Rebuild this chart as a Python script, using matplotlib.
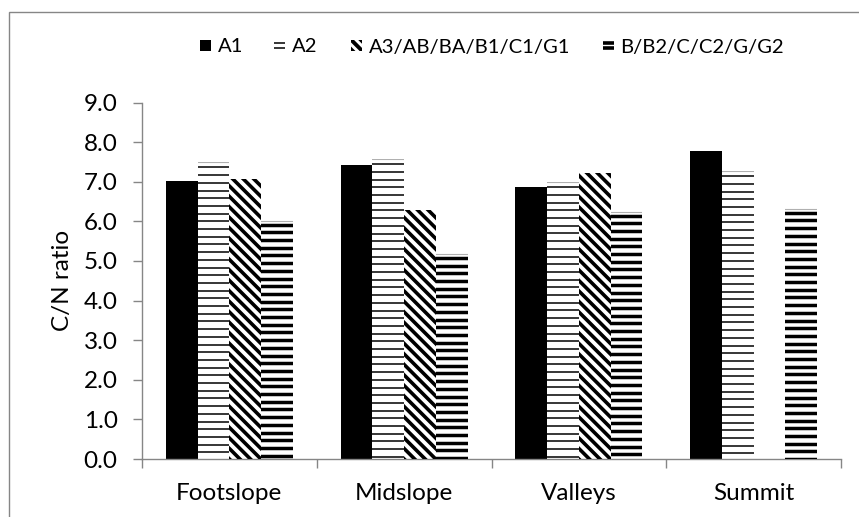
import matplotlib
matplotlib.use("Agg")
import numpy as np
import matplotlib.pyplot as plt
from matplotlib.collections import LineCollection
from matplotlib.transforms import IdentityTransform
from matplotlib.patches import Rectangle
from matplotlib.lines import Line2D
from matplotlib.legend_handler import HandlerBase

# ---- data ----
positions = ["Footslope", "Midslope", "Valleys", "Summit"]
a1 = [7.02, 7.42, 6.86, 7.78]
a2 = [7.50, 7.58, 7.00, 7.28]
a3 = [7.06, 6.28, 7.22, 0.0]
b_hor = [6.03, 5.19, 6.26, 6.33]
series_names = ["A1", "A2", "A3/AB/BA/B1/C1/G1", "B/B2/C/C2/G/G2"]
yticks = np.arange(0, 9.01, 1.0)

FONT = "Lato"
FS = 17.5
FS_LEG = 14.6
plt.rcParams["font.family"] = [FONT, "DejaVu Sans"]
GRAY = "#868686"

W, H = 859, 517
fig = plt.figure(figsize=(W / 100, H / 100), dpi=100)
ax = fig.add_axes([142 / W, (H - 459) / H, (841 - 142) / W, (459 - 102.5) / H])

x = np.arange(len(positions))
bw = 0.182
series = [a1, a2, a3, b_hor]
styles = ["solid", "thin", "diag", "thick"]

ax.set_xlim(-0.5, len(positions) - 0.5)
ax.set_ylim(0, 9)

bar_groups = []
for i, (vals, st) in enumerate(zip(series, styles)):
    fc = "black" if st == "solid" else "white"
    bars = ax.bar(x + (i - 1.5) * bw, vals, width=bw, color=fc,
                  edgecolor="none", linewidth=0, zorder=2)
    bar_groups.append((bars, st))


def stripe_patch(patch, style):
    """Overlay line stripes (in pixel units) clipped to a bar patch."""
    bb = patch.get_window_extent()
    if bb.height <= 0:
        return
    segs, cols, lws = [], [], []
    if style in ("thin", "thick"):
        step = 7.7
        lw = 1.1 if style == "thin" else 2.5
        # faint top edge
        segs.append([(bb.x0 - 2, bb.y1 - 0.5), (bb.x1 + 2, bb.y1 - 0.5)])
        cols.append("#b0b0b0")
        lws.append(0.8)
        y = bb.y1 - (5.5 if style == "thin" else 4.5)
        while y > bb.y0 - 2:
            segs.append([(bb.x0 - 2, y), (bb.x1 + 2, y)])
            cols.append("black")
            lws.append(lw)
            y -= step
    else:
        step = 10.5
        c = bb.x0 + bb.y0 - 2 * step
        while c < bb.x1 + bb.y1 + step:
            # line x + y = c  (runs top-left to bottom-right)
            segs.append([(c - bb.y1 - 5, bb.y1 + 5), (c - bb.y0 + 5, bb.y0 - 5)])
            cols.append("black")
            lws.append(2.6)
            c += step
    lc = LineCollection(segs, colors=cols, linewidths=lws,
                        transform=IdentityTransform(), zorder=3)
    ax.add_collection(lc, autolim=False)
    lc.set_clip_path(patch)


for bars, st in bar_groups:
    if st == "solid":
        continue
    for p in bars.patches:
        stripe_patch(p, st)

# ---- axes styling ----
for s in ("top", "right"):
    ax.spines[s].set_visible(False)
for s in ("left", "bottom"):
    ax.spines[s].set_color(GRAY)
    ax.spines[s].set_linewidth(1.0)

ax.set_yticks(yticks)
ax.set_yticklabels([f"{v:.1f}" for v in yticks], fontsize=FS)
ax.tick_params(axis="y", direction="out", length=6.5, width=1.0,
               color=GRAY, pad=11)
ax.set_xticks(x)
ax.set_xticklabels(positions, fontsize=FS)
ax.tick_params(axis="x", length=0, pad=17)
ax.set_xticks(np.arange(-0.5, len(positions)), minor=True)
ax.tick_params(axis="x", which="minor", direction="out", length=6.5,
               width=1.0, color=GRAY)
ax.set_ylabel("C/N ratio", fontsize=FS, labelpad=8)


# ---- legend with custom swatches ----
class SwatchHandler(HandlerBase):
    def __init__(self, style):
        super().__init__()
        self.style = style

    def create_artists(self, legend, orig_handle, xdescent, ydescent,
                       width, height, fontsize, trans):
        s = min(width, height)
        x0 = -xdescent + (width - s) / 2
        y0 = -ydescent + (height - s) / 2
        arts = []
        if self.style == "solid":
            arts.append(Rectangle((x0, y0), s, s, facecolor="black",
                                  edgecolor="none", transform=trans))
        elif self.style in ("thin", "thick"):
            lw = 1.1 if self.style == "thin" else 2.6
            for fy in (0.3, 0.72):
                arts.append(Line2D([x0, x0 + s], [y0 + fy * s, y0 + fy * s],
                                   color="black", lw=lw, transform=trans,
                                   solid_capstyle="butt"))
        else:
            clip = Rectangle((x0, y0), s, s, transform=trans)
            for c in (0.15, 1.0, 1.85):
                ln = Line2D([x0 + (c - 1.2) * s, x0 + (c + 0.2) * s],
                            [y0 + 1.2 * s, y0 - 0.2 * s],
                            color="black", lw=2.8, transform=trans)
                ln.set_clip_path(clip)
                arts.append(ln)
        return arts


# one legend entry per series, each anchored at its own left edge
legend_x = [200, 274, 351, 603]
for name, st, lx in zip(series_names, styles, legend_x):
    h = Rectangle((0, 0), 1, 1)
    fig.legend([h], [name], handler_map={h: SwatchHandler(st)},
               loc="center left", bbox_to_anchor=(lx / W, 1 - 47 / H),
               frameon=False, fontsize=FS_LEG, handlelength=0.56,
               handleheight=0.56, handletextpad=0.3,
               borderpad=0, borderaxespad=0)

# outer chart frame
fig.add_artist(Rectangle((8.5 / W, -0.05), 1.2, 1 - 12.3 / H + 0.05,
                         transform=fig.transFigure, fill=False,
                         edgecolor=GRAY, linewidth=1.0))

fig.savefig("out.png", dpi=100)
